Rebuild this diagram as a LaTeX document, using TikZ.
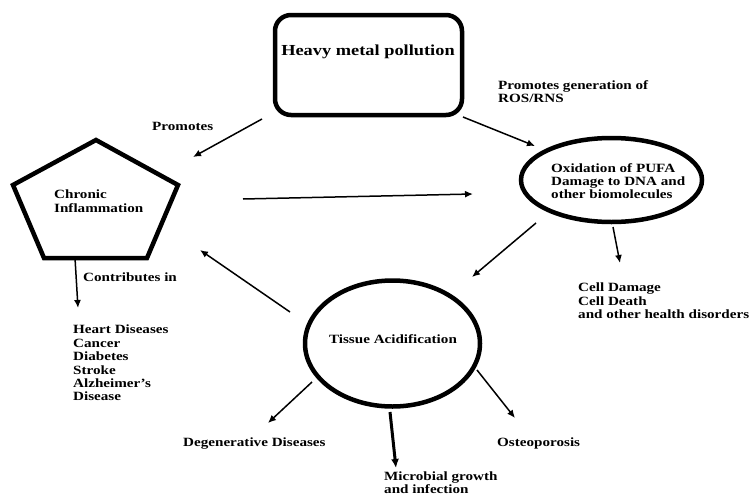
\documentclass[tikz,border=0pt]{standalone}
\usepackage{fontspec}
\setmainfont[FakeStretch=1.2]{Liberation Serif}
\usetikzlibrary{arrows.meta,shapes.geometric}
\tikzset{
  lbl/.style={font=\fontsize{12.6}{13.4}\selectfont\bfseries, inner sep=0pt, anchor=north west, align=left},
  thinarrow/.style={line width=1.5pt, -{Latex[length=8pt,width=7pt]}},
  thickarrow/.style={line width=3pt, -{Latex[length=9pt,width=8pt]}},
  shapeline/.style={line width=4.5pt},
}
\begin{document}
\begin{tikzpicture}[x=1pt,y=-1pt]
\useasboundingbox (0,0) rectangle (749,498);
% Heavy metal box
\node[shapeline, draw, rounded corners=16pt, minimum width=187pt, minimum height=100pt] (hm) at (368.5,65) {};
\node[font=\fontsize{15.3}{17}\selectfont\bfseries] (hmtext) at (368,52) {Heavy metal pollution};
% Pentagon
\coordinate (pt) at (96,140);
\coordinate (pul) at (13,185);
\coordinate (pbl) at (44,258);
\coordinate (pbr) at (147,258);
\coordinate (pur) at (178,185);
\draw[shapeline, line join=miter] (pt) -- (pur) -- (pbr) -- (pbl) -- (pul) -- cycle;
\node[lbl] (chronic) at (54,190) {Chronic\\Inflammation};
% Oxidation ellipse
\node[shapeline, draw, ellipse, minimum width=181pt, minimum height=84pt] (ox) at (611.5,180) {};
\node[lbl] (oxtext) at (551,163) {Oxidation of PUFA\\Damage to DNA and\\other biomolecules};
% Tissue ellipse
\node[shapeline, draw, ellipse, minimum width=175pt, minimum height=126pt] (ta) at (392.5,343.5) {};
\node[font=\fontsize{12.6}{13.4}\selectfont\bfseries, inner sep=0pt] (tatext) at (393,339) {Tissue Acidification};
% Labels
\node[lbl] (promotes) at (152,122) {Promotes};
\node[lbl] (ros) at (498,80) {Promotes generation of\\ROS/RNS};
\node[lbl] (contrib) at (83,273) {Contributes in};
\node[lbl] (list) at (73,325) {Heart Diseases\\Cancer\\Diabetes\\Stroke\\Alzheimer's\\Disease};
\node[lbl] (cell) at (578,283) {Cell Damage\\Cell Death\\and other health disorders};
\node[lbl] (degen) at (183,438) {Degenerative Diseases};
\node[lbl] (osteo) at (497,438) {Osteoporosis};
\node[lbl, font=\fontsize{12.6}{12.8}\selectfont\bfseries] (micro) at (384,472) {Microbial growth\\and infection};
% Connector end points
\coordinate (a1s) at (262,119); \coordinate (a1e) at (193,157);
\coordinate (a2s) at (463,117); \coordinate (a2e) at (535,146);
\coordinate (a3s) at (243,199); \coordinate (a3e) at (473,194);
\coordinate (a4s) at (536,223); \coordinate (a4e) at (472,277);
\coordinate (a5s) at (613,227); \coordinate (a5e) at (620,263);
\coordinate (a6s) at (290,312); \coordinate (a6e) at (200,250);
\coordinate (a7s) at (75,258);  \coordinate (a7e) at (78,308);
\coordinate (a8s) at (312,382); \coordinate (a8e) at (268,423);
\coordinate (a9s) at (390,412); \coordinate (a9e) at (396,468);
\coordinate (a10s) at (477,370); \coordinate (a10e) at (515,418);
\draw[thinarrow] (a1s) -- (a1e);
\draw[thinarrow] (a2s) -- (a2e);
\draw[thinarrow] (a3s) -- (a3e);
\draw[thinarrow] (a4s) -- (a4e);
\draw[thinarrow] (a5s) -- (a5e);
\draw[thinarrow] (a6s) -- (a6e);
\draw[thinarrow] (a7s) -- (a7e);
\draw[thinarrow] (a8s) -- (a8e);
\draw[thickarrow] (a9s) -- (a9e);
\draw[thinarrow] (a10s) -- (a10e);
\end{tikzpicture}
\end{document}
